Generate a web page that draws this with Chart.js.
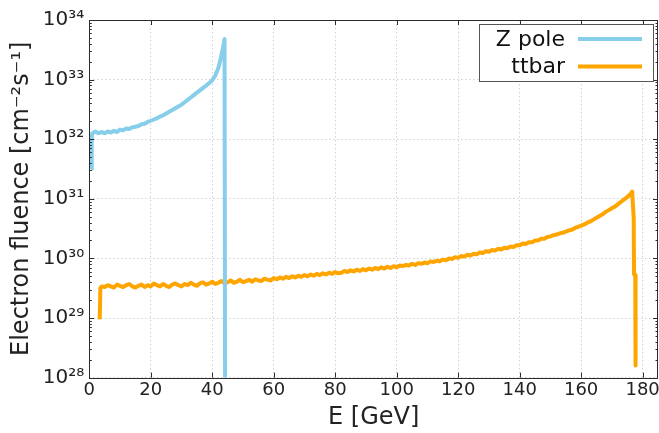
<!DOCTYPE html>
<html>
<head>
<meta charset="utf-8">
<script src="https://cdn.jsdelivr.net/npm/chart.js@4.4.0/dist/chart.umd.min.js"></script>
<style>
  html, body { margin: 0; padding: 0; background: #fff; }
  #wrap { width: 659px; height: 433px; }
</style>
</head>
<body>
<div id="wrap"><canvas id="chart" width="659" height="433"></canvas></div>
<script>
// =============================================================================
// Data
// =============================================================================

const seriesLabels = ['Z pole', 'ttbar'];
const seriesColors = ['#87CEEB', '#FFA500'];

const xTicks = [0, 20, 40, 60, 80, 100, 120, 140, 160, 180];
const yTicks = [1e28, 1e29, 1e30, 1e31, 1e32, 1e33, 1e34];

// Z pole beam: energy [GeV] and fluence [cm^-2 s^-1]
const zpoleEnergy = [
  0.6, 0.8, 1, 2, 3, 4, 5, 6, 7, 8, 9, 10, 11, 12, 13, 14, 15, 16, 17, 18,
  19, 20, 21, 22, 23, 24, 25, 26, 27, 28, 29, 30, 31, 32, 33, 34, 35, 36, 37, 38,
  39, 40, 41, 42, 42.5, 43, 43.5, 44, 44.2
];
const zpoleFluence = [
  3.16e31, 1.12e32, 1.26e32, 1.35e32, 1.26e32, 1.32e32, 1.26e32, 1.35e32, 1.29e32, 1.38e32,
  1.32e32, 1.45e32, 1.41e32, 1.51e32, 1.48e32, 1.58e32, 1.62e32, 1.66e32, 1.78e32, 1.82e32,
  1.95e32, 2.04e32, 2.14e32, 2.24e32, 2.40e32, 2.51e32, 2.69e32, 2.88e32, 3.09e32, 3.31e32,
  3.55e32, 3.80e32, 4.17e32, 4.57e32, 5.01e32, 5.50e32, 6.03e32, 6.61e32, 7.24e32, 7.94e32,
  8.71e32, 9.77e32, 1.17e33, 1.58e33, 2.00e33, 2.57e33, 3.39e33, 4.79e33, 1e27
];

// ttbar beam: energy [GeV] and fluence [cm^-2 s^-1]
const ttbarEnergy = [
  3.4, 3.6, 4, 5, 6, 7, 8, 9, 10, 11, 12, 13, 14, 15, 16, 17, 18, 19, 20,
  21, 22, 23, 24, 25, 26, 27, 28, 29, 30, 31, 32, 33, 34, 35, 36, 37, 38, 39, 40,
  41, 42, 43, 44, 45, 46, 47, 48, 49, 50, 51, 52, 53, 54, 55, 56, 57, 58, 59, 60,
  61, 62, 63, 64, 65, 66, 67, 68, 69, 70, 71, 72, 73, 74, 75, 76, 77, 78, 79, 80,
  81, 82, 83, 84, 85, 86, 87, 88, 89, 90, 91, 92, 93, 94, 95, 96, 97, 98, 99, 100,
  101, 102, 103, 104, 105, 106, 107, 108, 109, 110, 111, 112, 113, 114, 115, 116, 117, 118, 119, 120,
  121, 122, 123, 124, 125, 126, 127, 128, 129, 130, 131, 132, 133, 134, 135, 136, 137, 138, 139, 140,
  141, 142, 143, 144, 145, 146, 147, 148, 149, 150, 151, 152, 153, 154, 155, 156, 157, 158, 159, 160,
  161, 162, 163, 164, 165, 166, 167, 168, 169, 170, 171, 172, 173, 174, 175, 176,
  176.6, 177.1, 177.2, 177.6, 177.7
];
const ttbarFluence = [
  9.5e28, 3.16e29, 3.39e29, 3.31e29, 3.55e29, 3.39e29, 3.24e29, 3.63e29, 3.47e29, 3.31e29,
  3.55e29, 3.72e29, 3.39e29, 3.24e29, 3.47e29, 3.63e29, 3.31e29, 3.55e29, 3.39e29,
  3.80e29, 3.55e29, 3.39e29, 3.72e29, 3.47e29, 3.31e29, 3.63e29, 3.80e29, 3.55e29, 3.39e29,
  3.72e29, 3.55e29, 3.89e29, 3.63e29, 3.47e29, 3.80e29, 3.98e29, 3.63e29, 3.80e29, 4.07e29,
  3.72e29, 3.89e29, 4.17e29, 3.80e29, 3.98e29, 4.27e29, 3.89e29, 4.07e29, 4.37e29, 3.98e29,
  4.17e29, 4.37e29, 4.07e29, 4.47e29, 4.27e29, 4.17e29, 4.57e29, 4.37e29, 4.27e29, 4.68e29,
  4.47e29, 4.79e29, 4.57e29, 4.90e29, 4.68e29, 5.01e29, 4.79e29, 5.13e29, 4.90e29, 5.25e29,
  5.01e29, 5.37e29, 5.13e29, 5.50e29, 5.25e29, 5.62e29, 5.37e29, 5.75e29, 5.50e29, 5.89e29,
  5.62e29, 5.75e29, 6.17e29, 5.89e29, 6.31e29, 6.03e29, 6.46e29, 6.17e29, 6.61e29, 6.31e29,
  6.76e29, 6.46e29, 6.92e29, 6.61e29, 7.08e29, 6.76e29, 7.24e29, 6.92e29, 7.41e29, 7.08e29,
  7.59e29, 7.41e29, 7.76e29, 7.59e29, 8.13e29, 7.76e29, 8.32e29, 8.13e29, 8.51e29, 8.32e29,
  8.91e29, 8.71e29, 9.12e29, 8.91e29, 9.55e29, 9.33e29, 1.00e30, 9.77e29, 1.05e30, 1.02e30,
  1.10e30, 1.07e30, 1.15e30, 1.12e30, 1.20e30, 1.17e30, 1.26e30, 1.23e30, 1.32e30, 1.29e30,
  1.38e30, 1.35e30, 1.45e30, 1.41e30, 1.51e30, 1.48e30, 1.58e30, 1.55e30, 1.66e30, 1.66e30,
  1.78e30, 1.74e30, 1.86e30, 1.86e30, 2.00e30, 2.00e30, 2.14e30, 2.14e30, 2.29e30, 2.34e30,
  2.45e30, 2.51e30, 2.63e30, 2.69e30, 2.82e30, 2.95e30, 3.02e30, 3.24e30, 3.39e30, 3.55e30,
  3.72e30, 3.98e30, 4.17e30, 4.47e30, 4.79e30, 5.13e30, 5.50e30, 6.03e30, 6.46e30, 6.92e30,
  7.41e30, 8.13e30, 8.91e30, 9.77e30, 1.07e31, 1.20e31,
  1.32e31, 4.68e30, 5.37e29, 5.25e29, 1.6e28
];

// =============================================================================
// Helpers
// =============================================================================

const SUPERSCRIPT = { '0': '⁰', '1': '¹', '2': '²', '3': '³', '4': '⁴',
  '5': '⁵', '6': '⁶', '7': '⁷', '8': '⁸', '9': '⁹', '-': '⁻' };

function powerLabel(value) {
  const exp = String(Math.round(Math.log10(value)));
  return '10' + exp.split('').map(c => SUPERSCRIPT[c]).join('');
}

function toPoints(xs, ys) {
  return xs.map((x, i) => ({ x, y: ys[i] }));
}

const FRAME_COLOR = '#2b2b2b';

// frame with inward major / minor ticks, like the original plot
const framePlugin = {
  id: 'frame',
  afterDatasetsDraw(chart) {
    const { ctx, chartArea: a, scales } = chart;
    const xs = scales.x, ys = scales.y;
    ctx.save();
    ctx.strokeStyle = FRAME_COLOR;
    ctx.lineWidth = 1;
    ctx.beginPath();
    // x major ticks, top and bottom
    xTicks.forEach(v => {
      const px = Math.round(xs.getPixelForValue(v)) + 0.5;
      ctx.moveTo(px, a.bottom); ctx.lineTo(px, a.bottom - 5);
      ctx.moveTo(px, a.top); ctx.lineTo(px, a.top + 5);
    });
    // y major + minor ticks, left and right
    for (let e = 28; e < 34; e++) {
      for (let m = 1; m <= 9; m++) {
        const py = Math.round(ys.getPixelForValue(m * Math.pow(10, e))) + 0.5;
        const len = m === 1 ? 5 : 2.5;
        ctx.moveTo(a.left, py); ctx.lineTo(a.left + len, py);
        ctx.moveTo(a.right, py); ctx.lineTo(a.right - len, py);
      }
    }
    ctx.stroke();
    ctx.strokeRect(Math.round(a.left) + 0.5, Math.round(a.top) + 0.5,
      Math.round(a.right - a.left) - 1, Math.round(a.bottom - a.top));
    ctx.restore();
  }
};

// legend: label text on the left, line sample on the right, in a box
const legendPlugin = {
  id: 'boxLegend',
  afterDraw(chart) {
    const { ctx } = chart;
    const box = { x: 479.5, y: 24.5, w: 174, h: 57 };
    ctx.save();
    ctx.fillStyle = '#fff';
    ctx.fillRect(box.x, box.y, box.w, box.h);
    ctx.strokeStyle = '#555';
    ctx.lineWidth = 1;
    ctx.strokeRect(box.x, box.y, box.w, box.h);
    ctx.font = "22px 'DejaVu Sans'";
    ctx.textAlign = 'right';
    ctx.textBaseline = 'middle';
    chart.data.datasets.forEach((ds, i) => {
      const y = 39 + i * 27.5;
      ctx.fillStyle = '#111';
      ctx.fillText(ds.label, 565, y + 1);
      ctx.strokeStyle = ds.borderColor;
      ctx.lineWidth = 4;
      ctx.beginPath();
      ctx.moveTo(578, y); ctx.lineTo(642, y);
      ctx.stroke();
    });
    ctx.restore();
  }
};

// =============================================================================
// Chart
// =============================================================================

Chart.defaults.font.family = "'DejaVu Sans', sans-serif";
Chart.defaults.color = '#222';

const gridOpts = {
  display: true,
  color: '#d2d2d2',
  lineWidth: 1,
  drawTicks: false
};

function lineDataset(i, xs, ys) {
  return {
    label: seriesLabels[i],
    data: toPoints(xs, ys),
    borderColor: seriesColors[i],
    backgroundColor: seriesColors[i],
    borderWidth: 4,
    borderJoinStyle: 'round',
    pointRadius: 0,
    tension: 0,
    fill: false,
    clip: 0
  };
}

new Chart(document.getElementById('chart').getContext('2d'), {
  type: 'line',
  data: {
    datasets: [
      lineDataset(0, zpoleEnergy, zpoleFluence),
      lineDataset(1, ttbarEnergy, ttbarFluence)
    ]
  },
  options: {
    responsive: false,
    animation: false,
    events: [],
    layout: { padding: { top: 20, right: 1, left: 0, bottom: 0 } },
    plugins: {
      legend: { display: false },
      tooltip: { enabled: false }
    },
    scales: {
      x: {
        type: 'linear',
        min: 0,
        max: 185,
        afterBuildTicks: axis => { axis.ticks = xTicks.map(v => ({ value: v })); },
        afterFit: axis => { axis.paddingRight = 0; axis.paddingLeft = 0; },
        grid: gridOpts,
        border: { display: false, dash: [1.5, 2.5] },
        ticks: {
          padding: 2,
          font: { size: 18 },
          color: '#222',
          maxRotation: 0,
          callback: v => String(v)
        },
        title: {
          display: true,
          text: 'E [GeV]',
          font: { size: 24 },
          color: '#222',
          padding: { top: 0, bottom: 1 }
        }
      },
      y: {
        type: 'logarithmic',
        min: 1e28,
        max: 1e34,
        afterBuildTicks: axis => { axis.ticks = yTicks.map(v => ({ value: v })); },
        afterFit: axis => { axis.paddingTop = 0; axis.paddingBottom = 0; },
        grid: gridOpts,
        border: { display: false, dash: [1.5, 2.5] },
        ticks: {
          padding: 5,
          font: { size: 20 },
          color: '#222',
          callback: v => powerLabel(v)
        },
        title: {
          display: true,
          text: 'Electron fluence [cm⁻²s⁻¹]',
          font: { size: 24 },
          color: '#222',
          padding: { top: 7, bottom: 2 }
        }
      }
    }
  },
  plugins: [framePlugin, legendPlugin]
});
</script>
</body>
</html>
